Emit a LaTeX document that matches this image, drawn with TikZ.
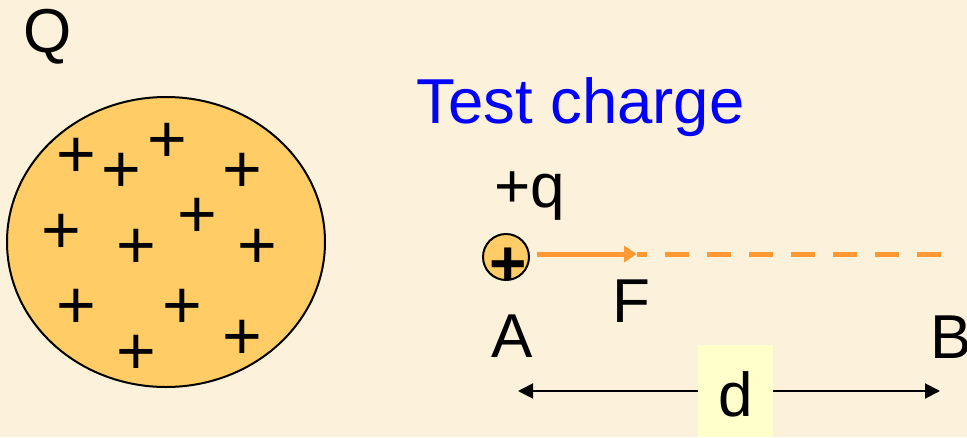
\documentclass[tikz,border=0pt]{standalone}
\usepackage{fontspec}
\setmainfont{Liberation Sans}
\usetikzlibrary{arrows.meta,shapes.geometric}
\definecolor{bg}{RGB}{252,242,220}
\definecolor{ball}{RGB}{255,204,102}
\definecolor{force}{RGB}{255,153,51}
\definecolor{dbox}{RGB}{255,255,204}
\definecolor{tblue}{RGB}{0,0,255}
\newcommand\myfs[1]{\fontsize{#1}{#1}\selectfont}
\begin{document}
\begin{tikzpicture}[x=1pt,y=-1pt,
  lbl/.style={inner sep=0pt, font=\myfs{62}, anchor=base},
  lblw/.style={inner sep=0pt, font=\myfs{62}, anchor=base west},
  pls/.style={inner sep=0pt, font=\myfs{68}, anchor=base},
  ptip/.tip={Triangle[length=13pt,width=16pt]},
  dtip/.tip={Triangle[length=15pt,width=15pt]}]
\path[fill=bg] (0,0) rectangle (967,437);
\useasboundingbox (0,0) rectangle (967,437);
% big charged sphere
\node (sphere) [draw, ellipse, fill=ball, line width=2pt, minimum width=318pt, minimum height=290pt, inner sep=0pt] at (166,242) {};
\foreach \px/\py [count=\i] in {76/153,121/168,167/138,242/168,61/229,136/244,197/213,257/244,76/304,182/304,136/350,242/335}
  \node (p\i) [pls] at (\px,\py+24) {+};
\node (Q) [lbl] at (47.5,52) {Q};
% test charge
\node (tc) [lblw, text=tblue, font=\myfs{63.5}] at (416,123) {Test charge};
\node (pq) [lblw] at (494,207) {+q};
\node (qball) [draw, circle, fill=ball, line width=2pt, minimum size=46pt, inner sep=0pt] at (506,257) {};
\node (qplus) [inner sep=0pt, font=\myfs{64}\bfseries, anchor=base] at (508,285) {+};
% force arrow and dashed path
\coordinate (Fs) at (537,254);
\coordinate (Fm) at (637,254);
\coordinate (Fe) at (647,254);
\coordinate (D1) at (665,254);
\coordinate (D2) at (941,254);
\draw[force, line width=5pt, -{ptip}] (Fs) -- (Fm);
\draw[force, line width=5pt] (Fm) -- (Fe);
\draw[force, line width=5pt, dash pattern=on 24pt off 18pt] (D1) -- (D2);
\node (F) [lblw] at (612,322) {F};
\node (A) [lbl] at (512,357) {A};
\node (B) [lblw] at (930,358) {B};
% distance
\coordinate (L) at (518,391);
\coordinate (R) at (940,391);
\draw[line width=2pt, {dtip}-{dtip}] (L) -- (R);
\node (d) [fill=dbox, minimum width=75pt, minimum height=92pt, inner sep=0pt, text height=52pt, font=\myfs{62}] at (735.5,391) {d};
\end{tikzpicture}
\end{document}
